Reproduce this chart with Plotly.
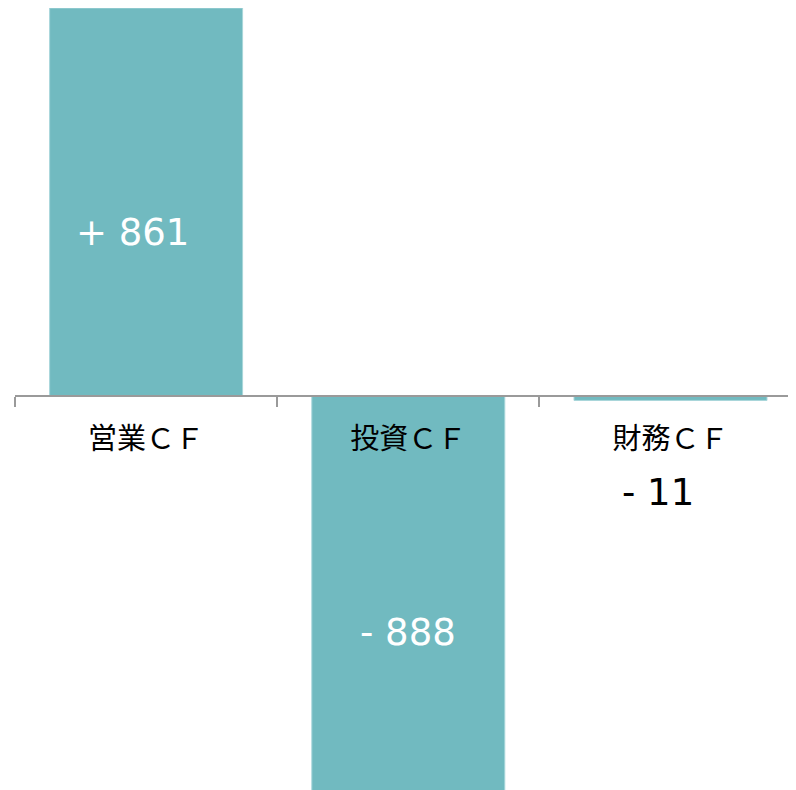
import plotly.graph_objects as go

categories = ["営業ＣＦ", "投資ＣＦ", "財務ＣＦ"]
values = [861, -888, -11]
value_labels = ["+ 861", "- 888", "- 11"]

bar_color = "#71BAC0"

fig = go.Figure()
fig.add_trace(go.Bar(
    x=categories,
    y=values,
    marker=dict(color=bar_color, line=dict(color="#A8D6DA", width=1)),
    width=0.736,
    hoverinfo="skip",
))

W, H = 796, 790
cat_px = 262.2
px_per_unit = 387.5 / 861
zero_fig = 387.5  # zero line measured from the top of the figure
y_top = zero_fig / px_per_unit
y_bot = -(H - zero_fig) / px_per_unit

# label placement (x offset in category units, y in paper coords), colours
label_pos = [(-0.05, 0.7152), (0.0, 0.2089), (-0.048, 0.3861)]
label_colors = ["white", "white", "black"]
for i, (txt, (dx, py), col) in enumerate(zip(value_labels, label_pos, label_colors)):
    fig.add_annotation(
        x=i + dx, y=py, xref="x", yref="paper",
        text=txt, showarrow=False,
        font=dict(family="DejaVu Sans", size=37, color=col),
        xanchor="center", yanchor="middle",
    )

fig.update_layout(
    width=W, height=H,
    margin=dict(l=7, r=0, t=0, b=0),
    plot_bgcolor="white", paper_bgcolor="white",
    showlegend=False,
    xaxis=dict(
        type="category",
        range=[-0.5, -0.5 + (W - 7) / cat_px],
        tickson="boundaries",
        ticks="outside", ticklen=10, tickwidth=2, tickcolor="#9A9A9A",
        showline=True, linecolor="#9A9A9A", linewidth=2,
        showgrid=False, zeroline=False,
        anchor="free", position=1 - zero_fig / H,
        tickfont=dict(family="Noto Sans CJK JP", size=29, color="black"),
        ticklabelstandoff=18,
    ),
    yaxis=dict(
        range=[y_bot, y_top],
        visible=False, showgrid=False, zeroline=False,
    ),
)

fig.write_html("out.html")
